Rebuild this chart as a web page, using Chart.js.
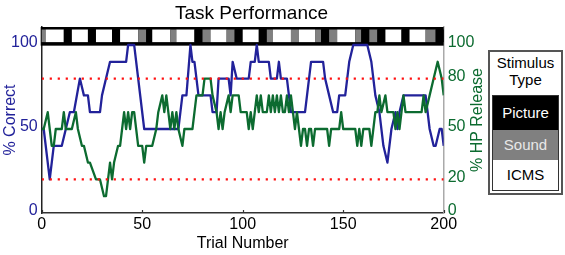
<!DOCTYPE html>
<html>
<head>
<meta charset="utf-8">
<script src="https://cdn.jsdelivr.net/npm/chart.js@4.4.1/dist/chart.umd.min.js"></script>
<style>
  html, body { margin: 0; padding: 0; background: #fff; }
  #wrap { position: relative; width: 565px; height: 255px; font-family: "Liberation Sans", Arial, sans-serif; }
  #legendBox { position: absolute; left: 488px; top: 50px; width: 75px; height: 145px; box-sizing: border-box;
    border: 2px solid #555; background: #fff; }
  #legendBox .head { text-align: center; font-size: 15px; line-height: 17px; margin-top: 2px; color: #000; }
  #legendBox .rows { position: absolute; left: 2px; top: 43px; width: 67px; height: 96px; box-sizing: border-box;
    border: 1.5px solid #333; }
  #legendBox .row { text-align: center; font-size: 15px; box-sizing: border-box; }
</style>
</head>
<body>
<div id="wrap">
  <canvas id="perfChart" width="565" height="255"></canvas>
  <div id="legendBox">
    <div class="head">Stimulus<br>Type</div>
    <div class="rows" id="legendRows"></div>
  </div>
</div>
<script>
// per-trial performance (vertices of the plotted lines)
const correctTrials = [0,1,4,6,10,12,14,16,19,21,23,24,29,30,32,34,42,43,46,51,68,69,70,72,74,75,76,78,84,85,87,88,93,94,95,97,103,104,106,107,108,113,114,117,118,119,122,123,124,131,134,140,141,143,145,147,148,151,153,155,162,164,166,168,170,172,174,176,177,178,180,191,193,195,196,198,199,200];
const pctCorrect    = [50,50,20,40,40,50,60,60,80,70,70,60,60,70,80,90,90,100,100,50,50,60,70,70,100,90,90,70,70,60,60,80,80,70,90,80,80,90,90,100,90,90,80,80,90,80,80,70,60,60,90,90,80,70,60,60,70,70,90,100,100,90,70,60,40,30,50,60,50,60,70,70,50,40,40,50,50,40];

const releaseTrials = [0,1,3,4,5,6,7,10,11,12,15,17,18,20,21,23,24,27,29,31,32,33,34,35,36,38,39,40,41,42,43,44,45,46,47,48,50,51,52,55,57,58,60,61,62,63,64,65,66,67,68,70,71,75,77,80,81,84,85,87,88,89,90,91,93,94,95,98,99,102,103,104,105,106,107,108,109,110,112,113,114,115,116,117,118,119,120,121,122,123,124,125,126,127,128,129,130,131,132,133,134,135,136,142,143,144,148,149,150,156,157,158,159,160,163,164,165,166,167,168,169,171,172,175,176,177,178,179,180,181,189,190,191,193,195,197,199,200];
const pctRelease    = [50,50,60,50,40,40,50,50,60,50,50,60,50,40,40,30,30,20,20,10,10,20,30,20,30,40,40,50,60,50,60,50,60,60,50,40,40,30,40,40,50,60,70,60,70,60,50,60,50,60,50,40,50,50,70,70,80,80,70,60,50,60,50,60,70,60,70,70,60,60,50,60,50,60,70,60,70,60,60,70,60,70,60,70,60,70,60,60,70,60,70,60,50,60,50,40,50,50,40,50,50,40,50,50,40,50,50,60,50,50,40,50,40,50,50,40,50,60,60,70,60,70,60,60,50,60,50,60,70,60,60,70,60,70,80,90,80,70,70];

const thresholdLevels = [20, 80];

const xTickValues = [0, 50, 100, 150, 200];
const leftTickValues = [0, 50, 100];
const rightTickValues = [0, 20, 50, 80, 100];

// stimulus type per block of trials: P = Picture, S = Sound, I = ICMS
const stimBounds = [0,2,11,15,23,27,35,39,48,52,55,64,67,76,80,84,92,96,100,108,112,115,124,128,136,139,143,147,156,159,163,167,171,179,183,191,196,200];
const stimTypes  = ['S','I','P','I','P','I','P','I','S','P','I','S','I','P','S','I','S','P','I','P','S','I','S','I','S','P','S','I','S','P','S','P','I','P','I','S','P'];

const legendLabels = ['Picture', 'Sound', 'ICMS'];

const BLUE = '#22229a';
const GREEN = '#0c6b30';
const stimColors = { P: '#000000', S: '#808080', I: '#ffffff' };
const FONT = '"Liberation Sans", Arial, sans-serif';

// legend box (html)
const legendStyles = [
  { bg: '#000', fg: '#fff', h: 34 },
  { bg: '#808080', fg: '#e8e8e8', h: 30 },
  { bg: '#fff', fg: '#000', h: 29 }
];
const rowsEl = document.getElementById('legendRows');
legendLabels.forEach((lab, i) => {
  const d = document.createElement('div');
  d.className = 'row';
  d.textContent = lab;
  d.style.background = legendStyles[i].bg;
  d.style.color = legendStyles[i].fg;
  d.style.height = legendStyles[i].h + 'px';
  d.style.lineHeight = legendStyles[i].h + 'px';
  rowsEl.appendChild(d);
});

const stimulusBar = {
  id: 'stimulusBar',
  beforeDatasetsDraw(chart) {
    const { ctx, scales: { x, y } } = chart;
    const top = y.getPixelForValue(110.7), bot = y.getPixelForValue(99.6);
    const inTop = y.getPixelForValue(109.2), inBot = y.getPixelForValue(101.7);
    const x0 = x.getPixelForValue(0), x1 = x.getPixelForValue(200);
    ctx.save();
    ctx.fillStyle = '#000';
    ctx.fillRect(x0 - 1, top, x1 - x0 + 1, bot - top);
    stimTypes.forEach((s, i) => {
      const a = x.getPixelForValue(stimBounds[i]);
      const b = x.getPixelForValue(stimBounds[i + 1]);
      ctx.fillStyle = stimColors[s];
      ctx.fillRect(a, inTop, b - a, inBot - inTop);
    });
    ctx.restore();
  }
};

// small inward tick marks on the trial axis + right axis title reading upward
const extras = {
  id: 'extras',
  afterDraw(chart) {
    const { ctx, scales: { x }, chartArea } = chart;
    ctx.save();
    ctx.strokeStyle = '#333';
    ctx.lineWidth = 1.2;
    xTickValues.forEach(v => {
      const px = Math.round(x.getPixelForValue(v)) + 0.5;
      ctx.beginPath();
      ctx.moveTo(px, chartArea.bottom);
      ctx.lineTo(px, chartArea.bottom - 3);
      ctx.stroke();
    });
    ctx.translate(478, (chartArea.top + chartArea.bottom) / 2);
    ctx.rotate(-Math.PI / 2);
    ctx.fillStyle = GREEN;
    ctx.font = '16px ' + FONT;
    ctx.textAlign = 'center';
    ctx.textBaseline = 'middle';
    ctx.fillText('% HP Release', 0, 0);
    ctx.restore();
  }
};

const datasets = [];
thresholdLevels.forEach(lvl => {
  datasets.push({
    data: [{ x: 0, y: lvl }, { x: 200, y: lvl }],
    yAxisID: 'y',
    borderColor: '#ff1010',
    borderWidth: 2.2,
    borderDash: [2.2, 5.8],
    pointRadius: 0,
    order: 0
  });
});
datasets.push({
  label: '% HP Release',
  data: releaseTrials.map((t, i) => ({ x: t, y: pctRelease[i] })),
  yAxisID: 'y2',
  borderColor: GREEN,
  borderWidth: 2.3,
  borderJoinStyle: 'round',
  pointRadius: 0,
  tension: 0,
  order: 1
});
datasets.push({
  label: '% Correct',
  data: correctTrials.map((t, i) => ({ x: t, y: pctCorrect[i] })),
  yAxisID: 'y',
  borderColor: BLUE,
  borderWidth: 2.3,
  borderJoinStyle: 'round',
  pointRadius: 0,
  tension: 0,
  order: 2
});

new Chart(document.getElementById('perfChart').getContext('2d'), {
  type: 'line',
  data: { datasets: datasets },
  plugins: [stimulusBar, extras],
  options: {
    responsive: false,
    animation: false,
    devicePixelRatio: 1,
    layout: { padding: { left: 0, right: 62, top: 0, bottom: 0 } },
    plugins: {
      legend: { display: false },
      tooltip: { enabled: false },
      title: {
        display: true,
        text: 'Task Performance',
        color: '#000',
        font: { family: FONT, size: 19, weight: 'normal' },
        padding: { top: 2, bottom: 2.2 }
      }
    },
    scales: {
      x: {
        type: 'linear',
        min: 0, max: 200,
        bounds: 'data',
        afterBuildTicks: s => { s.ticks = xTickValues.map(v => ({ value: v })); },
        afterFit: s => { s.height = 42; },
        grid: { display: false, drawTicks: false },
        border: { color: '#333', width: 1.5 },
        ticks: { color: '#000', padding: 2, font: { family: FONT, size: 16 } },
        title: { display: true, text: 'Trial Number', color: '#000',
          font: { family: FONT, size: 16 }, padding: { top: 0, bottom: 1.5 } }
      },
      y: {
        position: 'left',
        min: 0, max: 110.7,
        bounds: 'data',
        afterBuildTicks: s => { s.ticks = leftTickValues.map(v => ({ value: v })); },
        afterFit: s => { s.width = 41.7; },
        grid: { display: false, drawTicks: false },
        border: { color: '#222', width: 1.5 },
        ticks: { color: BLUE, padding: 4, labelOffset: -2, font: { family: FONT, size: 16 } },
        title: { display: true, text: '% Correct', color: BLUE,
          font: { family: FONT, size: 16 }, padding: { top: 1, bottom: 0 } }
      },
      y2: {
        position: 'right',
        min: 0, max: 110.7,
        bounds: 'data',
        afterBuildTicks: s => { s.ticks = rightTickValues.map(v => ({ value: v })); },
        afterFit: s => { s.width = 59.3; },
        grid: { display: false, drawTicks: false },
        border: { color: '#aaa', width: 1.5 },
        ticks: { color: GREEN, padding: 4, labelOffset: -2, font: { family: FONT, size: 16 } },
        title: { display: false }
      }
    }
  }
});
</script>
</body>
</html>
